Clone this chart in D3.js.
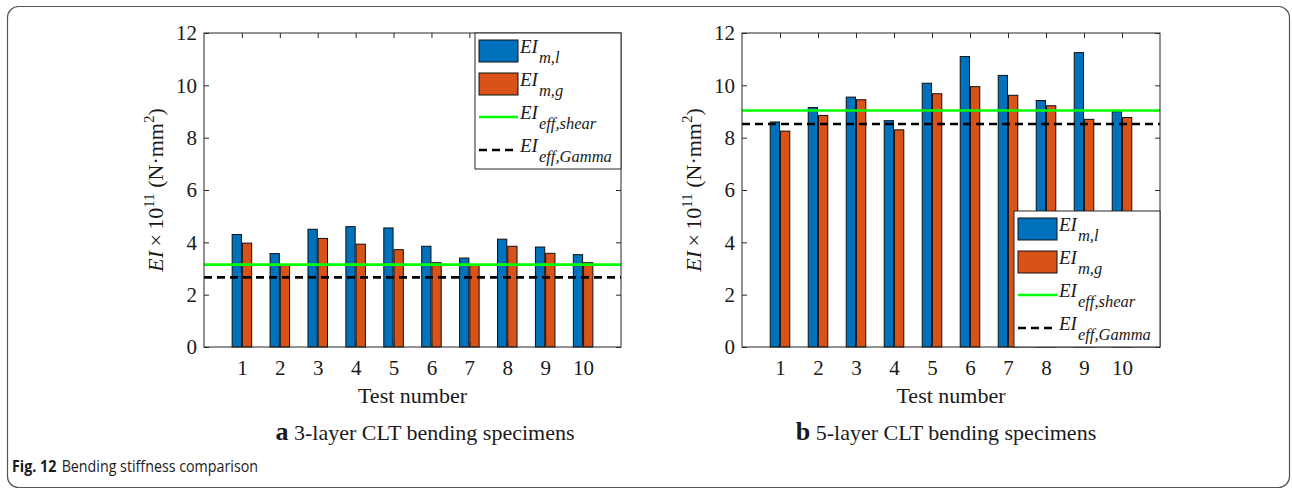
<!DOCTYPE html>
<html>
<head>
<meta charset="utf-8">
<script src="https://cdn.jsdelivr.net/npm/d3@7"></script>
<style>
  body { margin: 0; background: #fff; }
  text { font-family: "Liberation Serif", "Times New Roman", serif; fill: #1a1a1a; }
</style>
</head>
<body>
<svg id="fig" width="1292" height="489"></svg>
<script>
// test numbers
var tests = [1, 2, 3, 4, 5, 6, 7, 8, 9, 10];
var yTicks = [0, 2, 4, 6, 8, 10, 12];

// 3-layer specimens (x 1e11 N.mm2)
var layer3_ml = [4.30, 3.57, 4.50, 4.60, 4.55, 3.85, 3.40, 4.12, 3.82, 3.53];
var layer3_mg = [3.97, 3.15, 4.15, 3.93, 3.72, 3.22, 3.15, 3.85, 3.58, 3.22];
var layer3_shear = 3.15;
var layer3_gamma = 2.66;

// 5-layer specimens
var layer5_ml = [8.60, 9.15, 9.55, 8.65, 10.08, 11.10, 10.38, 9.42, 11.25, 8.99];
var layer5_mg = [8.25, 8.85, 9.45, 8.30, 9.68, 9.95, 9.62, 9.22, 8.70, 8.77];
var layer5_shear = 9.04;
var layer5_gamma = 8.52;

var blue = '#0072BD', orange = '#D95319', green = '#00FF00';
var axisColor = '#262626';

var svg = d3.select('#fig');

// outer frame
svg.append('rect')
  .attr('x', 7.5).attr('y', 6.5)
  .attr('width', 1282).attr('height', 481)
  .attr('rx', 11)
  .attr('fill', 'none')
  .attr('stroke', '#555').attr('stroke-width', 1.2);

function drawPanel(opts) {
  var w = opts.width, h = 314;
  var g = svg.append('g').attr('transform', 'translate(' + opts.left + ',33)');

  var x = d3.scaleLinear().domain([0, 11]).range([0, w]);
  var y = d3.scaleLinear().domain([0, 12]).range([h, 0]);
  var barW = x(0.245) - x(0);
  var off = 0.135;

  // bars
  g.selectAll('rect.ml').data(opts.ml).enter().append('rect')
    .attr('class', 'ml')
    .attr('x', function (d, i) { return x(tests[i] - off) - barW / 2; })
    .attr('y', function (d) { return y(d); })
    .attr('width', barW)
    .attr('height', function (d) { return h - y(d); })
    .attr('fill', blue).attr('stroke', '#111').attr('stroke-width', 1);

  g.selectAll('rect.mg').data(opts.mg).enter().append('rect')
    .attr('class', 'mg')
    .attr('x', function (d, i) { return x(tests[i] + off) - barW / 2; })
    .attr('y', function (d) { return y(d); })
    .attr('width', barW)
    .attr('height', function (d) { return h - y(d); })
    .attr('fill', orange).attr('stroke', '#111').attr('stroke-width', 1);

  // reference lines
  g.append('line')
    .attr('x1', 0).attr('x2', w)
    .attr('y1', y(opts.shear)).attr('y2', y(opts.shear))
    .attr('stroke', green).attr('stroke-width', 2.6);
  g.append('line')
    .attr('x1', 0).attr('x2', w)
    .attr('y1', y(opts.gamma)).attr('y2', y(opts.gamma))
    .attr('stroke', '#000').attr('stroke-width', 2.6)
    .attr('stroke-dasharray', '8,5');

  // axes, ticks pointing inward
  var left = g.append('g')
    .call(d3.axisLeft(y).tickValues(yTicks).tickSizeInner(-5).tickSizeOuter(0).tickPadding(7));
  var right = g.append('g').attr('transform', 'translate(' + w + ',0)')
    .call(d3.axisRight(y).tickValues(yTicks).tickSizeInner(-5).tickSizeOuter(0).tickFormat(''));
  var bottom = g.append('g').attr('transform', 'translate(0,' + h + ')')
    .call(d3.axisBottom(x).tickValues(tests).tickSizeInner(-5).tickSizeOuter(0).tickPadding(13));
  var top = g.append('g')
    .call(d3.axisTop(x).tickValues(tests).tickSizeInner(-5).tickSizeOuter(0).tickFormat(''));

  [left, right, bottom, top].forEach(function (a) {
    a.select('.domain').remove();
    a.selectAll('.tick line').attr('stroke', axisColor);
    a.selectAll('.tick text')
      .style('font-family', '"Liberation Serif", serif')
      .style('font-size', '21px')
      .attr('fill', '#1a1a1a');
  });

  g.append('rect')
    .attr('x', 0).attr('y', 0).attr('width', w).attr('height', h)
    .attr('fill', 'none').attr('stroke', axisColor).attr('stroke-width', 1);

  // y label
  var yl = g.append('text')
    .attr('transform', 'translate(' + (-41) + ',' + (h / 2) + ') rotate(-90)')
    .attr('text-anchor', 'middle')
    .style('font-size', '22px');
  yl.append('tspan').style('font-style', 'italic').text('EI');
  yl.append('tspan').text('\u2009\u00d7\u200910');
  yl.append('tspan').attr('dy', -9).style('font-size', '15px').text('11');
  yl.append('tspan').attr('dy', 9).text(' (N\u00b7mm');
  yl.append('tspan').attr('dy', -9).style('font-size', '15px').text('2');
  yl.append('tspan').attr('dy', 9).text(')');

  // x label
  g.append('text')
    .attr('x', w / 2).attr('y', h + 56)
    .attr('text-anchor', 'middle')
    .style('font-size', '22px')
    .text('Test number');

  // panel caption
  var cap = g.append('text')
    .attr('x', opts.capX - opts.left).attr('y', 407)
    .attr('text-anchor', 'middle')
    .style('font-size', '22px');
  cap.append('tspan').style('font-weight', 'bold').style('font-size', '26px').text(opts.letter);
  cap.append('tspan').text(' ' + opts.caption);

  // legend
  var lg = g.append('g').attr('transform', 'translate(' + opts.legX + ',' + opts.legY + ')');
  lg.append('rect')
    .attr('x', 0).attr('y', 0).attr('width', w - opts.legX).attr('height', 136)
    .attr('fill', '#fff').attr('stroke', axisColor).attr('stroke-width', 1);

  var entries = [
    { kind: 'bar', color: blue, sub: 'm,l' },
    { kind: 'bar', color: orange, sub: 'm,g' },
    { kind: 'line', color: green, sub: 'eff,shear' },
    { kind: 'dash', color: '#000', sub: 'eff,Gamma' }
  ];
  entries.forEach(function (e, i) {
    var cy = 18 + i * 33;
    if (e.kind === 'bar') {
      lg.append('rect').attr('x', 4).attr('y', cy - 11).attr('width', 39).attr('height', 22)
        .attr('fill', e.color).attr('stroke', '#111').attr('stroke-width', 1);
    } else {
      lg.append('line').attr('x1', 4).attr('x2', 43).attr('y1', cy).attr('y2', cy)
        .attr('stroke', e.color).attr('stroke-width', 2.6)
        .attr('stroke-dasharray', e.kind === 'dash' ? '8,5' : null);
    }
    var t = lg.append('text').attr('x', 45).attr('y', cy + 2)
      .style('font-style', 'italic').style('font-size', '19px');
    t.append('tspan').text('EI');
    t.append('tspan').attr('dy', 10).attr('dx', 1).style('font-size', '16.5px').text(e.sub);
  });
}

drawPanel({
  left: 204, width: 417,
  ml: layer3_ml, mg: layer3_mg, shear: layer3_shear, gamma: layer3_gamma,
  legX: 271, legY: 0,
  capX: 425, letter: 'a', caption: '3-layer CLT bending specimens'
});

drawPanel({
  left: 742, width: 418,
  ml: layer5_ml, mg: layer5_mg, shear: layer5_shear, gamma: layer5_gamma,
  legX: 272, legY: 178,
  capX: 946, letter: 'b', caption: '5-layer CLT bending specimens'
});

// figure caption
var fc = svg.append('text')
  .attr('x', 12).attr('y', 472)
  .attr('textLength', 246).attr('lengthAdjust', 'spacingAndGlyphs')
  .style('font-family', '"Open Sans", "Noto Sans", sans-serif')
  .style('font-size', '16px')
  .attr('fill', '#222');
fc.append('tspan').style('font-weight', 'bold').text('Fig. 12');
fc.append('tspan').attr('dx', 6).text('Bending stiffness comparison');
</script>
</body>
</html>
